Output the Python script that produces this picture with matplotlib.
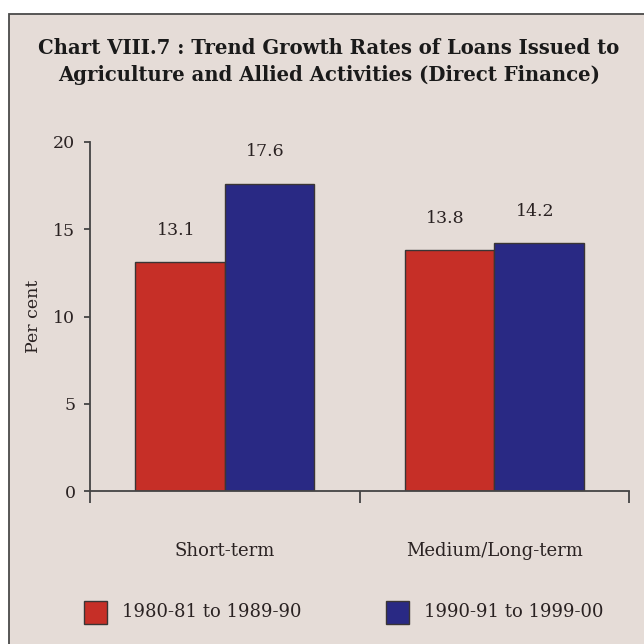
import matplotlib
matplotlib.use("Agg")
import matplotlib.pyplot as plt
from matplotlib.patches import Rectangle
import numpy as np

categories = ["Short-term", "Medium/Long-term"]
series_labels = ["1980-81 to 1989-90", "1990-91 to 1999-00"]
values_8090 = [13.1, 13.8]
values_9000 = [17.6, 14.2]
yticks = [0, 5, 10, 15, 20]
title = "Chart VIII.7 : Trend Growth Rates of Loans Issued to\nAgriculture and Allied Activities (Direct Finance)"

BG = "#E5DCD7"
RED = "#C62F27"
BLUE = "#292984"
EDGE = "#3A3535"
TXT = "#2A2222"

W = H = 644
fig = plt.figure(figsize=(6.44, 6.44), dpi=100, facecolor="white")

def fx(px):
    return px / W

def fy(py):
    return 1 - py / H

# outer frame
fig.patches.append(Rectangle((fx(9), -0.1), 1.2, fy(14) + 0.1, transform=fig.transFigure,
                             facecolor=BG, edgecolor="#4a4a4a", linewidth=1.3, zorder=-10))

fig.text(fx(329), fy(61.5), title, ha="center", va="center", fontsize=14.1,
         fontweight="bold", family="DejaVu Serif", color="#1a1a1a", linespacing=1.4)

ax = fig.add_axes([fx(90), fy(491), fx(629) - fx(90), fy(142) - fy(491)])
ax.set_facecolor("none")
ax.set_zorder(1)

x = np.arange(len(categories))
w = 0.332
b1 = ax.bar(x - w / 2, values_8090, w, color=RED, edgecolor=EDGE, linewidth=1.0, label=series_labels[0])
b2 = ax.bar(x + w / 2, values_9000, w, color=BLUE, edgecolor=EDGE, linewidth=1.0, label=series_labels[1])

for bars, vals in ((b1, values_8090), (b2, values_9000)):
    for r, v in zip(bars, vals):
        ax.annotate(f"{v:.1f}", (r.get_x() + r.get_width() / 2, v), xytext=(-3, 23),
                    textcoords="offset points", ha="center", va="center",
                    fontsize=12.5, family="DejaVu Serif", color=TXT)

ax.set_xlim(-0.5, 1.5)
ax.set_ylim(0, 20)
for s in ("top", "right"):
    ax.spines[s].set_visible(False)
for s in ("left", "bottom"):
    ax.spines[s].set_color("#444444")
    ax.spines[s].set_linewidth(1.3)

ax.set_yticks(yticks)
ax.set_yticklabels([str(t) for t in yticks], family="DejaVu Serif", fontsize=12.5, color=TXT)
ax.tick_params(axis="y", length=4.5, width=1.3, color="#444444", pad=6)

ax.set_xticks(x)
ax.set_xticklabels(categories, family="DejaVu Serif", fontsize=13, color=TXT)
ax.tick_params(axis="x", which="major", length=0, pad=37)
ax.set_xticks([-0.5, 0.5, 1.5], minor=True)
ax.tick_params(axis="x", which="minor", length=8.6, width=1.3, color="#444444")

ax.set_ylabel("Per cent", family="DejaVu Serif", fontsize=12.5, color=TXT, labelpad=8)

# legend (manual layout)
leg_x = [84, 386]
leg_colors = [RED, BLUE]
for lx, c, lab in zip(leg_x, leg_colors, series_labels):
    fig.patches.append(Rectangle((fx(lx), fy(624)), fx(23), fx(23), transform=fig.transFigure,
                                 facecolor=c, edgecolor=EDGE, linewidth=1.0, zorder=2))
    fig.text(fx(lx + 38), fy(612), lab, ha="left", va="center", fontsize=13,
             family="DejaVu Serif", color=TXT)

fig.savefig("out.png", dpi=100, facecolor="white")
